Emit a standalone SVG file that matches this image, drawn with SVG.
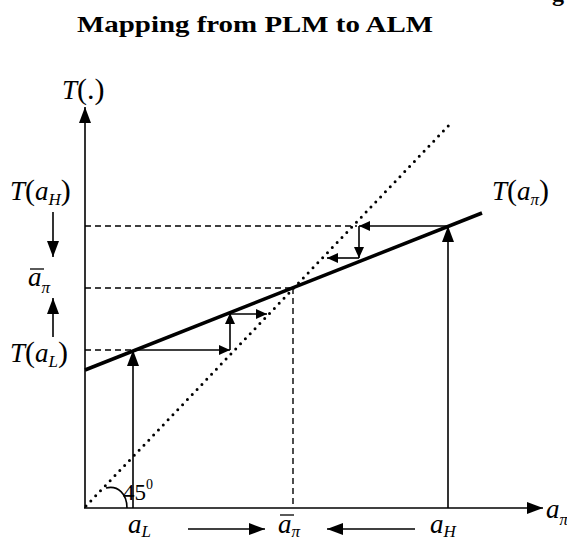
<svg xmlns="http://www.w3.org/2000/svg" width="567" height="544" viewBox="0 0 567 544">
<style>
.m{font-family:"Liberation Serif","Times New Roman",serif;font-style:italic;font-size:27px;fill:#000}
.s{font-size:17px}
.p{font-style:normal;font-size:30px}
.n{font-family:"Liberation Serif","Times New Roman",serif;font-size:23px;fill:#000}
.t{font-family:"Liberation Serif","Times New Roman",serif;font-weight:bold;font-size:24px;fill:#000}
.ln{stroke:#000;stroke-width:1.6;fill:none}
.dash{stroke:#000;stroke-width:1.4;fill:none;stroke-dasharray:6 4}
.thick{stroke:#000;stroke-width:3.5;fill:none}
.dot{stroke:#000;stroke-width:3;fill:none;stroke-dasharray:0 7;stroke-linecap:round}
.bar{stroke:#000;stroke-width:1.3}
</style>
<defs>
<marker id="big" markerUnits="userSpaceOnUse" markerWidth="17" markerHeight="12" refX="16" refY="6" orient="auto"><path d="M0,0 L16,6 L0,12 z" fill="#000"/></marker>
<marker id="sm" markerUnits="userSpaceOnUse" markerWidth="12" markerHeight="11" refX="11" refY="5" orient="auto"><path d="M0,0 L11,5 L0,10 z" fill="#000"/></marker>
</defs>
<text class="t" x="552" y="1">g</text>
<text class="t" x="77" y="32" textLength="356" lengthAdjust="spacingAndGlyphs">Mapping from PLM to ALM</text>
<g id="connectors">
<line class="ln" x1="85" y1="508" x2="85" y2="107" marker-end="url(#big)"/>
<line class="ln" x1="84" y1="508" x2="543" y2="508" marker-end="url(#big)"/>
<line class="dot" x1="86" y1="506" x2="452" y2="122"/>
<line class="thick" x1="85" y1="370" x2="482" y2="213"/>
<line class="dash" x1="85" y1="226" x2="357" y2="226"/>
<line class="dash" x1="85" y1="288" x2="293" y2="288"/>
<line class="dash" x1="293" y1="288" x2="293" y2="508"/>
<line class="dash" x1="85" y1="350" x2="133" y2="350"/>
<line class="ln" x1="133" y1="508" x2="133" y2="350" marker-end="url(#big)"/>
<line class="ln" x1="448" y1="508" x2="448" y2="226" marker-end="url(#big)"/>
<line class="ln" x1="133" y1="350" x2="230" y2="350" marker-end="url(#sm)"/>
<line class="ln" x1="230" y1="350" x2="230" y2="313" marker-end="url(#sm)"/>
<line class="ln" x1="230" y1="314" x2="267" y2="314" marker-end="url(#sm)"/>
<line class="ln" x1="448" y1="226" x2="359" y2="226" marker-end="url(#sm)"/>
<line class="ln" x1="359" y1="226" x2="359" y2="258" marker-end="url(#sm)"/>
<line class="ln" x1="359" y1="258" x2="327" y2="258" marker-end="url(#sm)"/>
<line class="ln" x1="53" y1="212" x2="53" y2="257" marker-end="url(#big)"/>
<line class="ln" x1="53" y1="337" x2="53" y2="298" marker-end="url(#big)"/>
<line class="ln" x1="188" y1="529" x2="265" y2="529" marker-end="url(#big)"/>
<line class="ln" x1="415" y1="529" x2="327" y2="529" marker-end="url(#big)"/>
<path class="ln" d="M127,508 C127,494 118,485 106,488"/>
</g>
<g id="label-T">
<text class="m" x="62" y="99">T<tspan class="p">(.)</tspan></text>
</g>
<g id="label-TaH">
<text class="m" x="10" y="200">T<tspan class="p">(</tspan>a<tspan class="s" dy="5">H</tspan><tspan class="p" dy="-5">)</tspan></text>
</g>
<g id="label-abar-left">
<text class="m" x="28" y="286">a<tspan class="s" dy="7">π</tspan></text>
<line class="bar" x1="30" y1="269" x2="44" y2="269"/>
</g>
<g id="label-TaL">
<text class="m" x="10" y="362">T<tspan class="p">(</tspan>a<tspan class="s" dy="5">L</tspan><tspan class="p" dy="-5">)</tspan></text>
</g>
<g id="label-Tapi">
<text class="m" x="492" y="200">T<tspan class="p">(</tspan>a<tspan class="s" dy="5">π</tspan><tspan class="p" dy="-5">)</tspan></text>
</g>
<g id="label-45">
<text class="n" x="123" y="500">45<tspan font-size="14" dy="-11">0</tspan></text>
</g>
<g id="label-api-axis">
<text class="m" x="546" y="518">a<tspan class="s" dy="7">π</tspan></text>
</g>
<g id="label-aL">
<text class="m" x="128" y="533">a<tspan class="s" dy="4">L</tspan></text>
</g>
<g id="label-abar-bottom">
<text class="m" x="278" y="533">a<tspan class="s" dy="4">π</tspan></text>
<line class="bar" x1="280" y1="515" x2="294" y2="515"/>
</g>
<g id="label-aH">
<text class="m" x="430" y="533">a<tspan class="s" dy="4">H</tspan></text>
</g>
</svg>
